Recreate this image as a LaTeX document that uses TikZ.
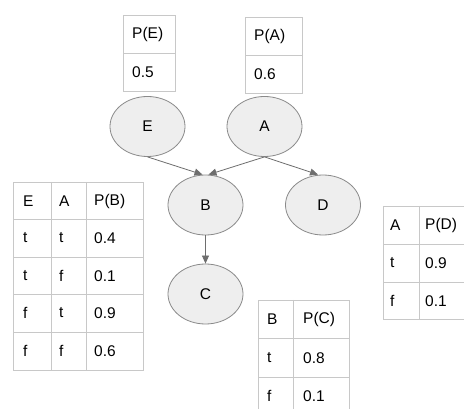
\documentclass[tikz,border=0pt]{standalone}
\usepackage{fontspec}
\setmainfont{Liberation Sans}
\usetikzlibrary{shapes.geometric,arrows.meta}
\definecolor{gridc}{HTML}{C8C8C8}
\definecolor{ellc}{HTML}{8A8A8A}
\definecolor{ellf}{HTML}{EEEEEE}
\definecolor{arrc}{HTML}{6E6E6E}
\tikzset{
  gridline/.style={draw=gridc, line width=0.9pt},
  txt/.style={anchor=west, inner sep=0pt, font=\fontsize{15.5}{18}\selectfont},
  bn/.style={ellipse, draw=ellc, fill=ellf, line width=0.8pt, minimum width=75pt, minimum height=60pt, inner sep=0pt, font=\fontsize{15.5}{18}\selectfont},
  edge/.style={draw=arrc, line width=0.8pt, -{Triangle[length=8pt,width=7pt]}},
}
\begin{document}
\begin{tikzpicture}[x=1pt,y=-1pt]
\useasboundingbox (0,0) rectangle (464,409);
\clip (0,0) rectangle (464,409);
\fill[white] (0,0) rectangle (464,409);

% Table P(E)
\draw[gridline] (123,15) rectangle (175,91);
\draw[gridline] (123,53) -- (175,53);
\node[txt] (pe-h) at (132,34) {P(E)};
\node[txt] (pe-v) at (132,72) {0.5};

% Table P(A)
\draw[gridline] (245,17) rectangle (302,93);
\draw[gridline] (245,55) -- (302,55);
\node[txt] (pa-h) at (254,36) {P(A)};
\node[txt] (pa-v) at (254,74) {0.6};

% Table P(B)
\draw[gridline] (13,182) rectangle (143,370);
\foreach \y in {219.5,257,294.5,332} \draw[gridline] (13,\y) -- (143,\y);
\draw[gridline] (51,182) -- (51,370);
\draw[gridline] (86,182) -- (86,370);
\node[txt] (pb-h1) at (23,201) {E};
\node[txt] (pb-h2) at (59,201) {A};
\node[txt] (pb-h3) at (94,201) {P(B)};
\node[txt] (pb-11) at (23,238) {t};
\node[txt] (pb-12) at (59,238) {t};
\node[txt] (pb-13) at (94,238) {0.4};
\node[txt] (pb-21) at (23,276) {t};
\node[txt] (pb-22) at (59,276) {f};
\node[txt] (pb-23) at (94,276) {0.1};
\node[txt] (pb-31) at (23,313) {f};
\node[txt] (pb-32) at (59,313) {t};
\node[txt] (pb-33) at (94,313) {0.9};
\node[txt] (pb-41) at (23,351) {f};
\node[txt] (pb-42) at (59,351) {f};
\node[txt] (pb-43) at (94,351) {0.6};

% Table P(D)
\draw[gridline] (383,206) rectangle (490,319);
\draw[gridline] (383,244) -- (490,244);
\draw[gridline] (383,282) -- (490,282);
\draw[gridline] (419,206) -- (419,319);
\node[txt] (pd-h1) at (390,225) {A};
\node[txt] (pd-h2) at (425,225) {P(D)};
\node[txt] (pd-11) at (390,263) {t};
\node[txt] (pd-12) at (425,263) {0.9};
\node[txt] (pd-21) at (390,301) {f};
\node[txt] (pd-22) at (425,301) {0.1};

% Table P(C)
\draw[gridline] (258,300) rectangle (349,430);
\draw[gridline] (258,338) -- (349,338);
\draw[gridline] (258,377) -- (349,377);
\draw[gridline] (293,300) -- (293,430);
\node[txt] (pc-h1) at (267,319) {B};
\node[txt] (pc-h2) at (303,319) {P(C)};
\node[txt] (pc-11) at (267,358) {t};
\node[txt] (pc-12) at (303,358) {0.8};
\node[txt] (pc-21) at (267,396) {f};
\node[txt] (pc-22) at (303,396) {0.1};

% Network nodes
\node[bn] (E) at (147.5,126.5) {E};
\node[bn] (A) at (264.5,126.5) {A};
\node[bn] (B) at (205.5,205) {B};
\node[bn] (C) at (205.5,294) {C};
\node[bn] (D) at (323,205) {D};

% Edges
\draw[edge] (E.south) -- ([xshift=-3pt]B.north);
\draw[edge] (A.south) -- ([xshift=3pt]B.north);
\draw[edge] (A.south) -- ([xshift=-5pt]D.north);
\draw[edge] (B.south) -- (C.north);
\end{tikzpicture}
\end{document}
